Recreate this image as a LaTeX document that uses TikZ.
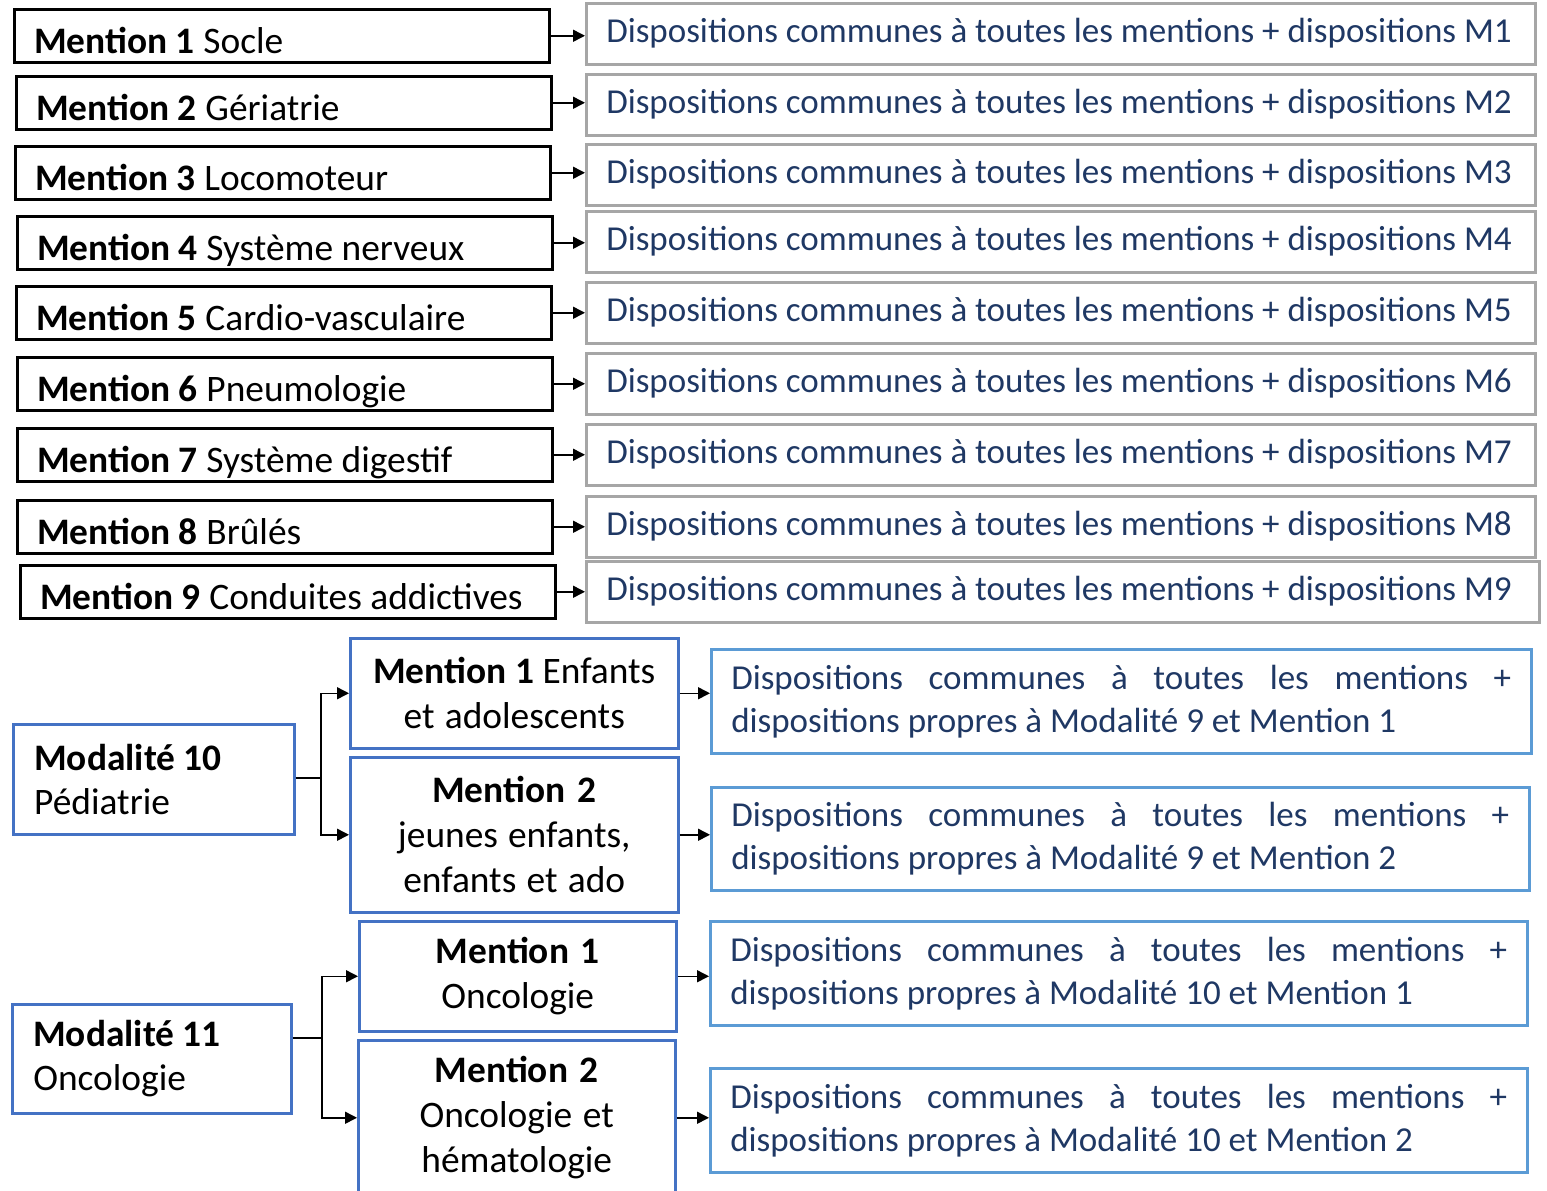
\documentclass[tikz,border=0pt]{standalone}
\usepackage{fontspec}
\setmainfont{Carlito}
\usetikzlibrary{arrows.meta}
\definecolor{boxblue}{HTML}{4472C4}
\definecolor{lightblue}{HTML}{5B9BD5}
\definecolor{navy}{HTML}{1F3864}
\definecolor{framegray}{HTML}{A6A6A6}

% first line of a provision text, spread over the full width
\newcommand{\fullline}[1]{\makebox[\hsize][s]{#1}}
% one-line provision text that never wraps
\newcommand{\oneline}[1]{\makebox[909pt][l]{#1}}

\begin{document}
\begin{tikzpicture}[x=1pt,y=-1pt,
  every node/.append style={execute at begin node={\spaceskip=0pt \xspaceskip=0pt }},
  mention/.style={draw=black, line width=2.5pt, anchor=north west,
    inner xsep=20pt, inner ysep=0pt, text width=495pt,
    text height=44pt, text depth=9pt, align=left,
    font=\fontsize{37.4}{44}\selectfont},
  dispo/.style={draw=framegray, line width=2.5pt, anchor=north west,
    inner xsep=20pt, inner ysep=0pt, minimum width=#1, minimum height=61pt,
    text height=26pt, text depth=8pt, text=navy,
    font=\fontsize{35}{42}\selectfont},
  modal/.style={draw=boxblue, line width=2.5pt, anchor=north west,
    inner xsep=21pt, inner ysep=0pt, align=left,
    font=\fontsize{37.4}{44}\selectfont},
  sub/.style={draw=boxblue, line width=2.5pt, anchor=north west,
    inner xsep=20pt, inner ysep=0pt, align=center,
    font=\fontsize{37.4}{45}\selectfont},
  prop/.style={draw=lightblue, line width=2.5pt, anchor=north west,
    inner xsep=20pt, inner ysep=0pt, align=left, text=navy,
    font=\fontsize{35}{43}\selectfont},
  conn/.style={line width=1.5pt, -{Triangle[length=12pt,width=12pt]}},
  link/.style={line width=1.5pt}
]
\useasboundingbox (0,0) rectangle (1547,1191);

% Mentions of the common track
\node[mention] (l1) at (13,8)   {\textbf{Mention 1} Socle};
\node[mention] (l2) at (15,75)  {\textbf{Mention 2} Gériatrie};
\node[mention] (l3) at (14,145) {\textbf{Mention 3} Locomoteur};
\node[mention] (l4) at (16,215) {\textbf{Mention 4} Système nerveux};
\node[mention] (l5) at (15,285) {\textbf{Mention 5} Cardio-vasculaire};
\node[mention] (l6) at (16,356) {\textbf{Mention 6} Pneumologie};
\node[mention] (l7) at (16,427) {\textbf{Mention 7} Système digestif};
\node[mention] (l8) at (16,499) {\textbf{Mention 8} Brûlés};
\node[mention] (l9) at (19,564) {\textbf{Mention 9} Conduites addictives};

% Applicable provisions
\node[dispo=949pt] (r1) at (585,2)   {\oneline{Dispositions communes à toutes les mentions + dispositions M1}};
\node[dispo=949pt] (r2) at (585,73)  {\oneline{Dispositions communes à toutes les mentions + dispositions M2}};
\node[dispo=949pt] (r3) at (585,143) {\oneline{Dispositions communes à toutes les mentions + dispositions M3}};
\node[dispo=949pt] (r4) at (585,210) {\oneline{Dispositions communes à toutes les mentions + dispositions M4}};
\node[dispo=949pt] (r5) at (585,281) {\oneline{Dispositions communes à toutes les mentions + dispositions M5}};
\node[dispo=949pt] (r6) at (585,352) {\oneline{Dispositions communes à toutes les mentions + dispositions M6}};
\node[dispo=949pt] (r7) at (585,423) {\oneline{Dispositions communes à toutes les mentions + dispositions M7}};
\node[dispo=949pt] (r8) at (585,495) {\oneline{Dispositions communes à toutes les mentions + dispositions M8}};
\node[dispo=953pt] (r9) at (585,560) {\makebox[913pt][l]{Dispositions communes à toutes les mentions + dispositions M9}};

\foreach \k in {1,...,9}
  \draw[conn] (l\k.east) -- (l\k.east -| r\k.west);

% Modalité 10
\node[modal, text width=239pt, minimum height=110pt] (mod10) at (12,723)
  {\textbf{Modalité 10}\\Pédiatrie};
\node[sub, text width=288pt, minimum height=110pt] (p1) at (349,637)
  {\textbf{Mention 1} Enfants\\et adolescents};
\node[sub, text width=288pt, minimum height=155pt] (p2) at (349,756)
  {\textbf{Mention 2}\\jeunes enfants,\\enfants et ado};
\node[prop, text width=780pt, minimum height=104pt] (pr1) at (710,648)
  {\fullline{Dispositions communes à toutes les mentions +}\\dispositions propres à Modalité 9 et Mention 1};
\node[prop, text width=778pt, minimum height=103pt] (pr2) at (710,786)
  {\fullline{Dispositions communes à toutes les mentions +}\\dispositions propres à Modalité 9 et Mention 2};

\coordinate (j1) at (321,778);
\draw[link] (mod10.east |- j1) -- (j1);
\draw[conn] (j1) |- (p1.west);
\draw[conn] (j1) |- (p2.west);
\draw[conn] (p1.east) -- (p1.east -| pr1.west);
\draw[conn] (p2.east) -- (p2.east -| pr2.west);

% Modalité 11
\node[modal, text width=237pt, minimum height=109pt] (mod11) at (11,1003)
  {\textbf{Modalité 11}\\Oncologie};
\node[sub, text width=277pt, minimum height=110pt] (o1) at (358,920)
  {\textbf{Mention 1}\\Oncologie};
\node[sub, text width=277pt, minimum height=155pt] (o2) at (357,1039)
  {\textbf{Mention 2}\\Oncologie et\\hématologie};
\node[prop, text width=777pt, minimum height=104pt] (or1) at (709,920)
  {\fullline{Dispositions communes à toutes les mentions +}\\dispositions propres à Modalité 10 et Mention 1};
\node[prop, text width=777pt, minimum height=104pt] (or2) at (709,1067)
  {\fullline{Dispositions communes à toutes les mentions +}\\dispositions propres à Modalité 10 et Mention 2};

\coordinate (j2) at (322,1038);
\draw[link] (mod11.east |- j2) -- (j2);
\draw[conn] (j2) |- (o1.west);
\draw[conn] (j2) |- (o2.west);
\draw[conn] (o1.east) -- (o1.east -| or1.west);
\draw[conn] (o2.east) -- (o2.east -| or2.west);
\end{tikzpicture}
\end{document}
